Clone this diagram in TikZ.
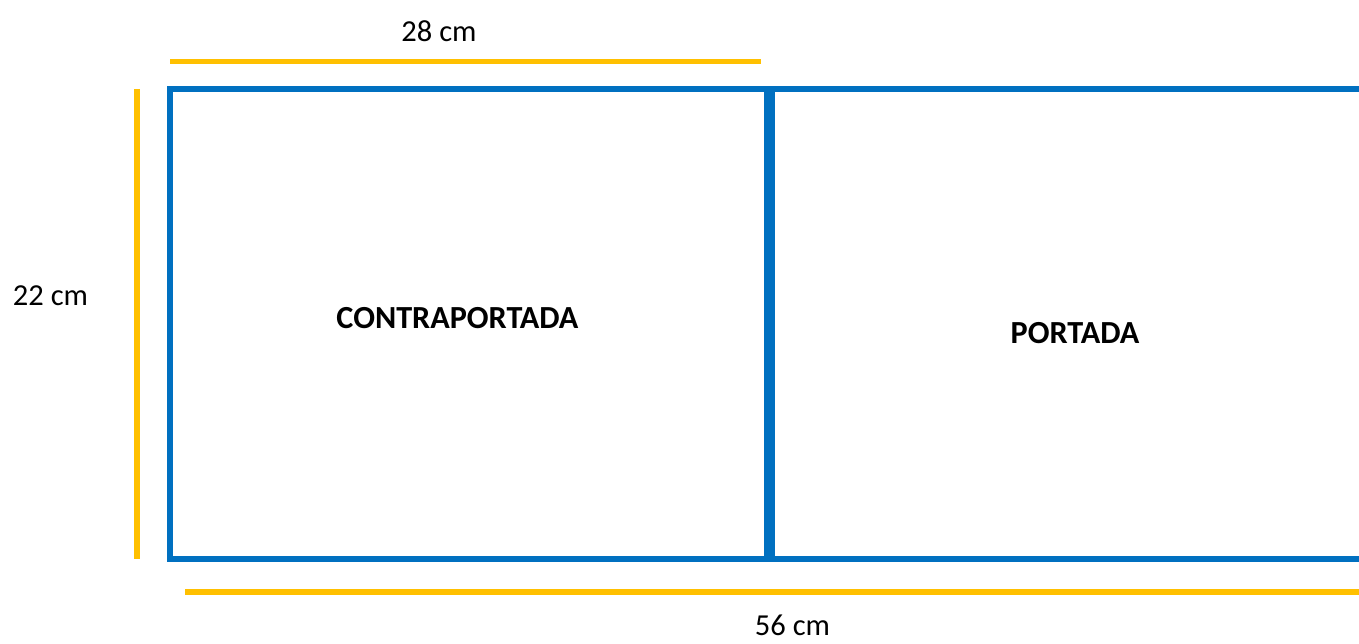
\documentclass[tikz,border=0pt]{standalone}
\usepackage{fontspec}
\setmainfont{Carlito}
\usepackage{tikz}
\usetikzlibrary{positioning, calc}
\definecolor{coverblue}{HTML}{0070C0}
\definecolor{sizegold}{HTML}{FFC000}
\tikzset{
  page/.style={draw=coverblue, line width=6pt},
  spine/.style={draw=coverblue, line width=11pt},
  dimline/.style={draw=sizegold, line width=5.5pt},
  dimtext/.style={anchor=base, inner sep=0pt, font=\fontsize{30.5}{36}\selectfont},
  title/.style={anchor=base, inner sep=0pt, font=\fontsize{32.2}{38}\selectfont\bfseries}
}
\begin{document}
\begin{tikzpicture}[x=1pt, y=-1pt]
\useasboundingbox (0,0) rectangle (1359,644);
\clip (0,0) rectangle (1359,644);
% corners of the two pages
\coordinate (tl) at (169.5,89.5);
\coordinate (br) at (769.5,559);
\coordinate (tm) at (769.5,89.5);
\coordinate (rr) at (1380,559);
\draw[page] (tl) rectangle (br);
\draw[page] (tm) rectangle (rr);
\draw[spine] (tm) -- (br);
% dimension lines
\coordinate (wa) at (170,61.5);
\coordinate (wb) at (760.5,61.5);
\coordinate (ha) at (137,89);
\coordinate (hb) at (137,559);
\coordinate (la) at (185,592);
\coordinate (lb) at (1380,592);
\draw[dimline] (wa) -- (wb);
\draw[dimline] (ha) -- (hb);
\draw[dimline] (la) -- (lb);
% labels
\node[dimtext] (w) at (439,41.7) {28 cm};
\node[dimtext] (h) at (50.5,305) {22 cm};
\node[dimtext] (l) at (792.5,635) {56 cm};
\node[title] (back) at (457.5,328) {CONTRAPORTADA};
\node[title] (front) at (1075,343) {PORTADA};
\end{tikzpicture}
\end{document}
